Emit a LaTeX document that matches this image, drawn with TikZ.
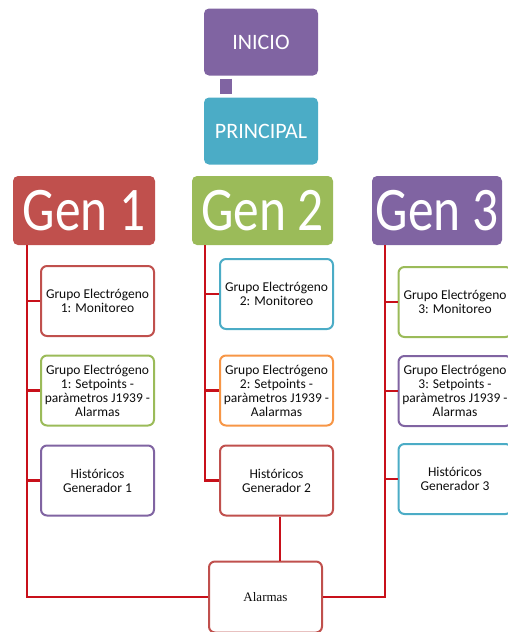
\documentclass[tikz,border=0pt]{standalone}
\usepackage{fontspec}
\usepackage{graphicx}
\setmainfont{Carlito}
\newfontfamily\alarmfont{Liberation Serif}
\usetikzlibrary{positioning, calc}
\definecolor{offred}{HTML}{C0504D}
\definecolor{offgreen}{HTML}{9BBB59}
\definecolor{offpurple}{HTML}{8064A2}
\definecolor{offaqua}{HTML}{4BACC6}
\definecolor{offorange}{HTML}{F79646}
\definecolor{linkred}{HTML}{C8101A}

\begin{document}
\begin{tikzpicture}[x=1pt, y=-1pt, every node/.style={font=\fontsize{13.5}{14}\selectfont}]
  \tikzset{
    topbox/.style={rounded corners=5pt, fill=#1, text=white, minimum width=114pt, minimum height=67pt, inner sep=0pt, font=\fontsize{22}{24}\selectfont},
    genbox/.style={rounded corners=5pt, fill=#1, text=white, minimum height=69pt, inner sep=0pt, font=\fontsize{62}{64}\selectfont},
    subbox/.style={rounded corners=6pt, draw=#1, line width=2pt, fill=white, minimum width=113pt, minimum height=70pt, align=center, text=black!95, inner sep=0pt},
    link/.style={draw=linkred, line width=2.6pt},
  }
  \useasboundingbox (0,0) rectangle (508,632);
  \clip (0,0) rectangle (508,632);
  %% top of the tree
  \node[topbox=offpurple] (inicio) at (261,42) {INICIO};
  \node[topbox=offaqua] (principal) at (261,131) {PRINCIPAL};
  \coordinate (stub) at (226,0);
  \draw[draw=offpurple, line width=12pt, shorten <=3pt, shorten >=3pt] (inicio.south -| stub) -- (principal.north -| stub);
  %% generator headers
  \node[genbox=offred, minimum width=142pt] (gen1) at (84,210.5) {\scalebox{0.83}[1]{Gen 1}};
  \node[genbox=offgreen, minimum width=141pt] (gen2) at (262.5,210.5) {\scalebox{0.83}[1]{Gen 2}};
  \node[genbox=offpurple, minimum width=130pt] (gen3) at (437,210.5) {\scalebox{0.83}[1]{Gen 3}};
  %% Gen 1 column
  \node[subbox=offred] (g1a) at (97.5,301) {Grupo Electrógeno\\1: Monitoreo};
  \node[subbox=offgreen] (g1b) at (97.5,390.5) {Grupo Electrógeno\\1: Setpoints -\\paràmetros J1939 -\\Alarmas};
  \node[subbox=offpurple] (g1c) at (97.5,480.5) {Históricos\\Generador 1};
  %% Gen 2 column
  \node[subbox=offaqua] (g2a) at (276.5,294) {Grupo Electrógeno\\2: Monitoreo};
  \node[subbox=offorange] (g2b) at (276.5,390.5) {Grupo Electrógeno\\2: Setpoints -\\paràmetros J1939 -\\Aalarmas};
  \node[subbox=offred] (g2c) at (276.5,480.5) {Históricos\\Generador 2};
  %% Gen 3 column
  \node[subbox=offgreen] (g3a) at (455,302) {Grupo Electrógeno\\3: Monitoreo};
  \node[subbox=offpurple] (g3b) at (455,391) {Grupo Electrógeno\\3: Setpoints -\\paràmetros J1939 -\\Alarmas};
  \node[subbox=offaqua] (g3c) at (455,479) {Históricos\\Generador 3};
  %% alarms
  \node[subbox=offred, minimum height=71pt, font=\alarmfont\fontsize{13}{14}\selectfont] (alarmas) at (265.5,597) {Alarmas};
  %% connectors
  \coordinate (t1) at (27,0);
  \coordinate (t2) at (205,0);
  \coordinate (t3) at (385,0);
  \draw[link] (gen1.south -| t1) -- (t1 |- alarmas.west) -- (alarmas.west);
  \draw[link] (gen3.south -| t3) -- (t3 |- alarmas.east) -- (alarmas.east);
  \draw[link] (gen2.south -| t2) -- (t2 |- g2c.west) -- (g2c.west);
  \foreach \t/\b in {t1/g1a, t1/g1b, t1/g1c, t2/g2a, t2/g2b, t3/g3a, t3/g3b, t3/g3c}
    \draw[link] (\t |- \b.west) -- (\b.west);
  \draw[link] ($(g2c.south)+(3.5,0)$) -- ($(g2c.south |- alarmas.north)+(3.5,0)$);
\end{tikzpicture}
\end{document}
